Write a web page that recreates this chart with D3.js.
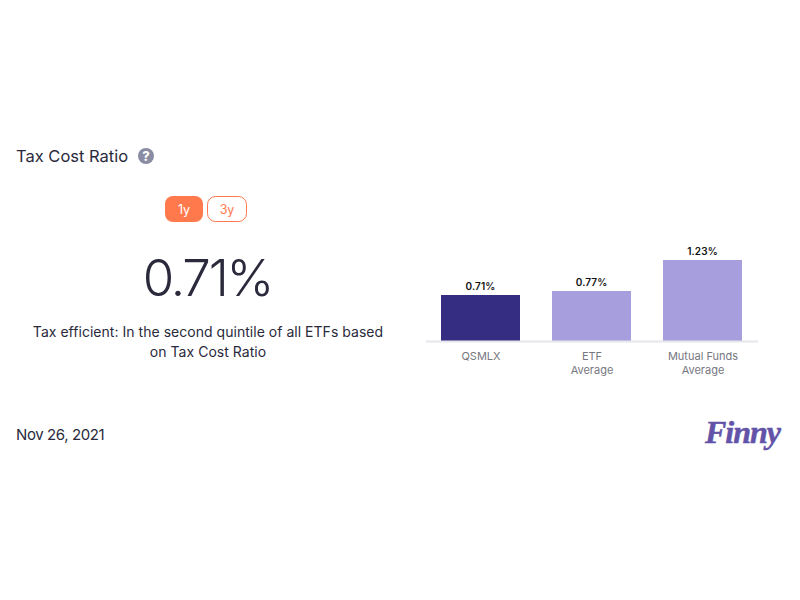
<!DOCTYPE html>
<html>
<head>
<meta charset="utf-8">
<script src="https://cdn.jsdelivr.net/npm/d3@7"></script>
<style>
  html, body { margin: 0; padding: 0; background: #fff; }
  text { font-family: Inter, "Noto Sans", sans-serif; }
</style>
</head>
<body>
<svg id="chart" width="800" height="600"></svg>
<script>
const categories = ['QSMLX', 'ETF', 'Mutual Funds'];
const subLabels = ['', 'Average', 'Average'];
const values = [0.71, 0.77, 1.23];
const barColors = ['#352D82', '#A79FDD', '#A79FDD'];
const periods = ['1y', '3y'];
const descLines = ['Tax efficient: In the second quintile of all ETFs based', 'on Tax Cost Ratio'];

const dark = '#2A2A3C';
const orange = '#FF794D';

const svg = d3.select('#chart');

svg.append('text').attr('x', 16).attr('y', 162)
  .attr('font-size', 16.5).attr('fill', dark).text('Tax Cost Ratio');

// help icon
const help = svg.append('g').attr('transform', 'translate(146,156)');
help.append('circle').attr('r', 8).attr('fill', '#8A8CA3');
help.append('text').attr('y', 5).attr('text-anchor', 'middle')
  .attr('font-size', 13).attr('font-weight', 800).attr('fill', '#fff').text('?');

// period buttons
const btnX = d3.scaleOrdinal().domain(periods).range([165, 207]);
const btnW = d3.scaleOrdinal().domain(periods).range([38, 40]);
const btn = svg.selectAll('g.btn').data(periods).join('g')
  .attr('class', 'btn')
  .attr('transform', d => `translate(${btnX(d)},196)`);
btn.append('rect')
  .attr('x', (d, i) => i ? 0.5 : 0).attr('y', (d, i) => i ? 0.5 : 0)
  .attr('width', d => btnW(d) - (d === '3y' ? 1 : 0))
  .attr('height', (d, i) => i ? 25 : 26).attr('rx', 8)
  .attr('fill', (d, i) => i ? '#fff' : orange)
  .attr('stroke', (d, i) => i ? orange : 'none');
btn.append('text')
  .attr('x', d => btnW(d) / 2).attr('y', 17.5).attr('text-anchor', 'middle')
  .attr('font-size', 12.5)
  .attr('fill', (d, i) => i ? orange : '#fff').text(d => d);

// headline value
svg.append('text').attr('x', 207.5).attr('y', 296).attr('text-anchor', 'middle')
  .attr('font-size', 51).attr('font-weight', 300).attr('letter-spacing', -2.2).attr('fill', dark)
  .text(d3.format('.2f')(values[0]) + '%');

svg.selectAll('text.desc').data(descLines).join('text')
  .attr('class', 'desc')
  .attr('x', 208).attr('y', (d, i) => 337 + i * 20)
  .attr('text-anchor', 'middle')
  .attr('font-size', 14).attr('letter-spacing', 0.03).attr('fill', dark).text(d => d);

// bars
const x = d3.scaleBand().domain(categories).range([425, 758])
  .paddingInner(0.288).paddingOuter(0.144);
const y = d3.scaleLinear().domain([0, 1.25]).range([341.2, 259.075]);

svg.selectAll('rect.bar').data(values).join('rect')
  .attr('class', 'bar')
  .attr('x', (d, i) => x(categories[i]))
  .attr('y', d => y(d))
  .attr('width', x.bandwidth())
  .attr('height', d => y(0) - y(d))
  .attr('shape-rendering', 'crispEdges')
  .attr('fill', (d, i) => barColors[i]);

svg.selectAll('text.val').data(values).join('text')
  .attr('class', 'val')
  .attr('x', (d, i) => x(categories[i]) + x.bandwidth() / 2)
  .attr('y', d => y(d) - 5)
  .attr('text-anchor', 'middle')
  .attr('font-size', 10).attr('font-weight', 600).attr('letter-spacing', 0.1).attr('fill', '#111')
  .text(d => d3.format('.2f')(d) + '%');

svg.append('line')
  .attr('x1', 426).attr('x2', 758).attr('y1', 341.5).attr('y2', 341.5)
  .attr('stroke', '#E6E6EC').attr('stroke-width', 2);

const tick = svg.selectAll('text.tick').data(categories).join('text')
  .attr('class', 'tick')
  .attr('x', d => x(d) + x.bandwidth() / 2 + 0.5)
  .attr('y', 360)
  .attr('text-anchor', 'middle')
  .attr('font-size', 11).attr('fill', '#77777F');
tick.append('tspan').text(d => d);
tick.append('tspan')
  .attr('x', d => x(d) + x.bandwidth() / 2 + 0.5).attr('dy', 14)
  .text((d, i) => subLabels[i]);

// footer
svg.append('text').attr('x', 16).attr('y', 440)
  .attr('font-size', 15).attr('letter-spacing', -0.4).attr('fill', dark).text('Nov 26, 2021');

svg.append('text').attr('x', 780).attr('y', 443).attr('text-anchor', 'end')
  .style('font-family', '"Liberation Serif", serif')
  .attr('font-size', 32).attr('font-weight', 700).attr('font-style', 'italic')
  .attr('letter-spacing', -1)
  .attr('stroke', '#6253A8').attr('stroke-width', 0.5)
  .attr('fill', '#6253A8').text('Finny');
</script>
</body>
</html>
